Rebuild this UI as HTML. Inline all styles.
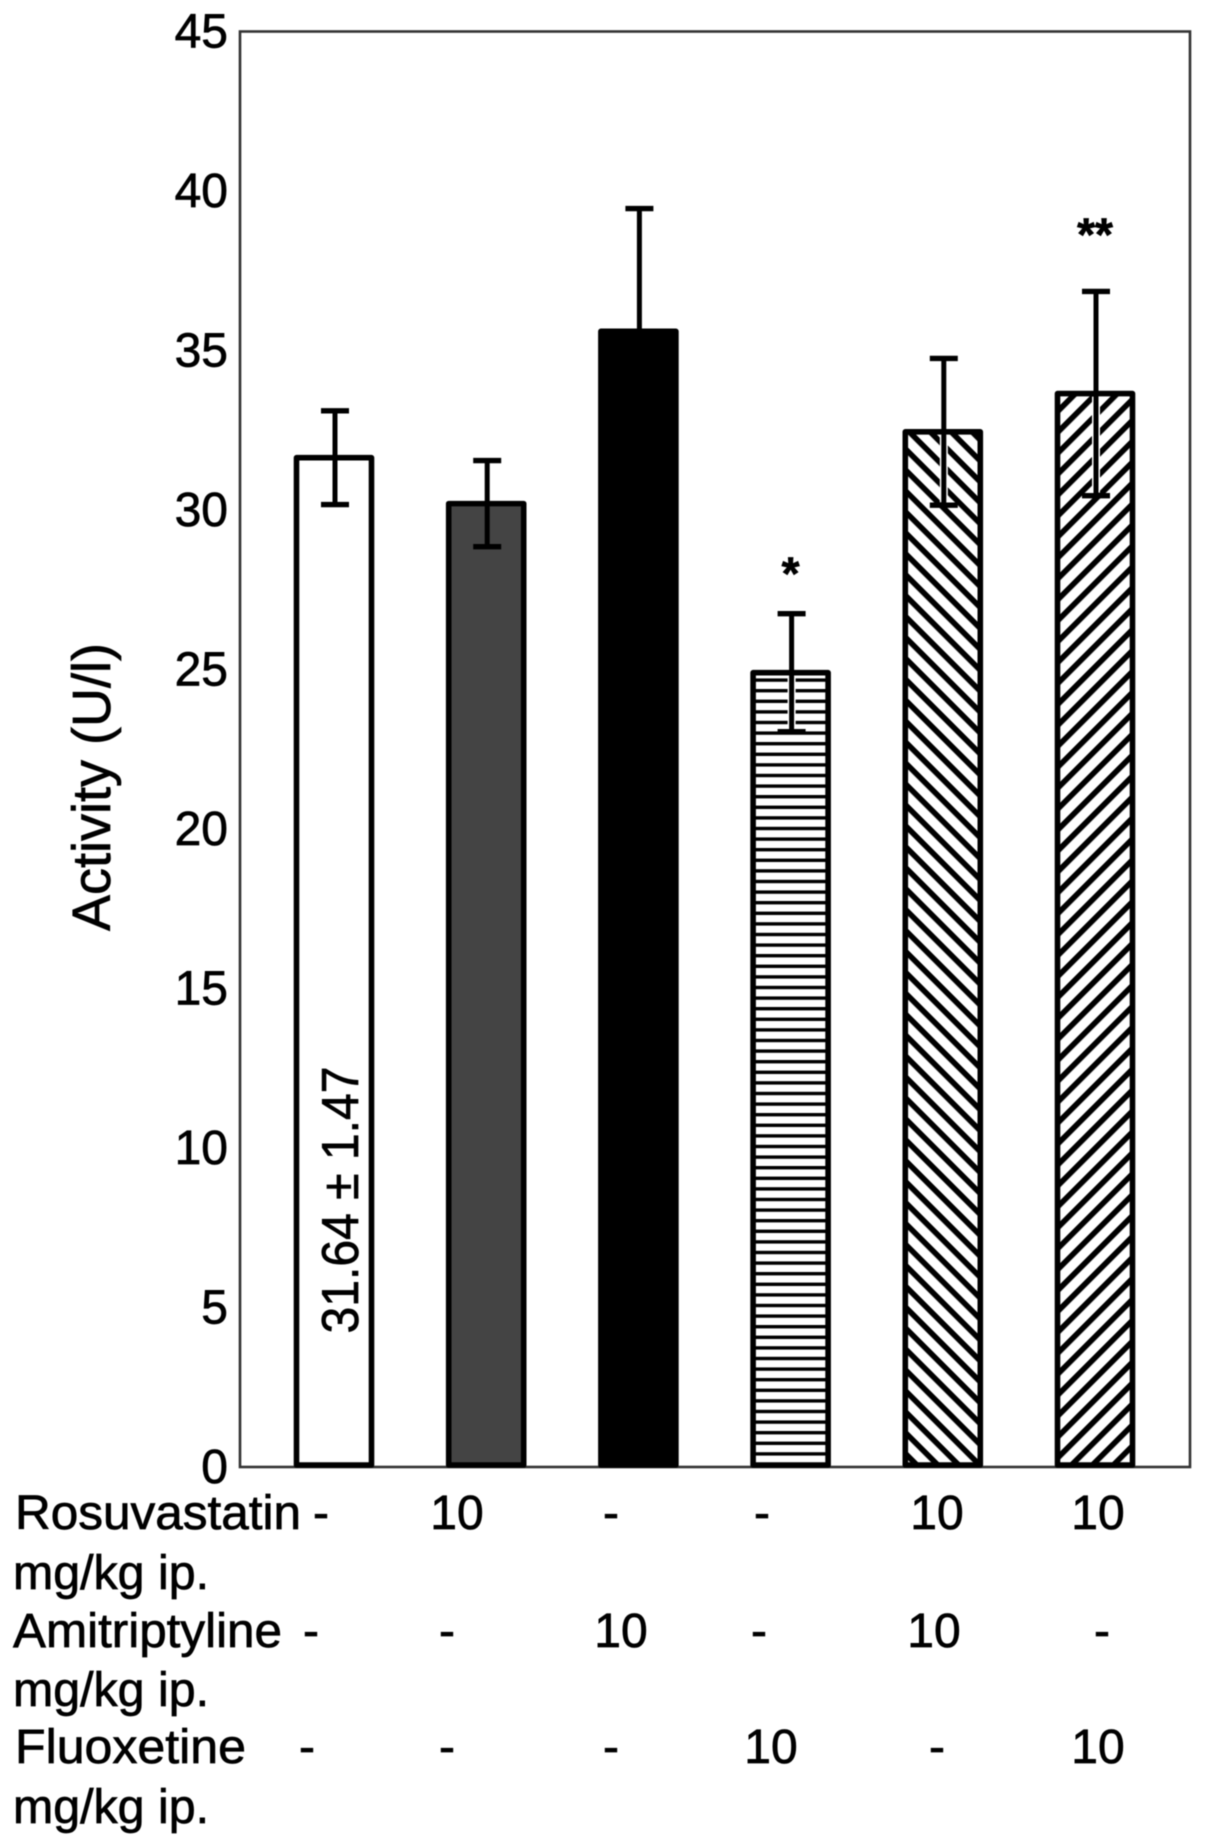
<!DOCTYPE html>
<html lang="en">
<head>
<meta charset="utf-8">
<title>Activity (U/l) bar chart</title>
<style>
html,body{margin:0;padding:0;background:#fff;width:1205px;height:1847px;overflow:hidden}
svg{display:block;filter:blur(.5px)}
text{font-family:"Liberation Sans",Arial,sans-serif;fill:#000;stroke:#000;stroke-width:.7px}
.cell{font-size:48px}
</style>
</head>
<body>
<svg id="chart" xmlns="http://www.w3.org/2000/svg" width="1205" height="1847" viewBox="0 0 1205 1847">
  <defs>
    <pattern id="hatch-horizontal" patternUnits="userSpaceOnUse" width="10.6" height="10.6">
      <rect width="10.6" height="10.6" fill="#fff"/><rect width="10.6" height="3.4" fill="#000"/>
    </pattern>
    <pattern id="hatch-down" patternUnits="userSpaceOnUse" width="14.8" height="14.8" patternTransform="rotate(45)">
      <rect width="14.8" height="14.8" fill="#fff"/><rect width="14.8" height="5.6" fill="#000"/>
    </pattern>
    <pattern id="hatch-up" patternUnits="userSpaceOnUse" width="14.8" height="14.8" patternTransform="rotate(-45)">
      <rect width="14.8" height="14.8" fill="#fff"/><rect width="14.8" height="5.6" fill="#000"/>
    </pattern>
  </defs>

  <rect x="240" y="31.5" width="950" height="1435.5" fill="#fff" stroke="#333" stroke-width="2.6"/>
  <g id="marks"></g>
  <g id="y-ticks"></g>

  <text transform="translate(110,787) rotate(-90)" text-anchor="middle" font-size="54" textLength="288" lengthAdjust="spacingAndGlyphs">Activity (U/l)</text>
  <text transform="translate(358,1200) rotate(-90)" text-anchor="middle" font-size="52" textLength="267" lengthAdjust="spacingAndGlyphs">31.64 ± 1.47</text>

  <g class="cell">
    <text x="15" y="1529" class="cell" textLength="286" lengthAdjust="spacingAndGlyphs">Rosuvastatin</text>
    <text x="13" y="1589" class="cell" textLength="196" lengthAdjust="spacingAndGlyphs">mg/kg ip.</text>
    <text x="13" y="1647" class="cell" textLength="269" lengthAdjust="spacingAndGlyphs">Amitriptyline</text>
    <text x="13" y="1706" class="cell" textLength="196" lengthAdjust="spacingAndGlyphs">mg/kg ip.</text>
    <text x="15" y="1763" class="cell" textLength="231" lengthAdjust="spacingAndGlyphs">Fluoxetine</text>
    <text x="13" y="1823" class="cell" textLength="196" lengthAdjust="spacingAndGlyphs">mg/kg ip.</text>

    <text class="cell" text-anchor="middle" x="321" y="1529">-</text>
    <text class="cell" text-anchor="middle" x="457" y="1529">10</text>
    <text class="cell" text-anchor="middle" x="611" y="1529">-</text>
    <text class="cell" text-anchor="middle" x="762" y="1529">-</text>
    <text class="cell" text-anchor="middle" x="937" y="1529">10</text>
    <text class="cell" text-anchor="middle" x="1098" y="1529">10</text>

    <text class="cell" text-anchor="middle" x="311" y="1647">-</text>
    <text class="cell" text-anchor="middle" x="447" y="1647">-</text>
    <text class="cell" text-anchor="middle" x="621" y="1647">10</text>
    <text class="cell" text-anchor="middle" x="759" y="1647">-</text>
    <text class="cell" text-anchor="middle" x="934" y="1647">10</text>
    <text class="cell" text-anchor="middle" x="1102" y="1647">-</text>

    <text class="cell" text-anchor="middle" x="307" y="1763">-</text>
    <text class="cell" text-anchor="middle" x="447" y="1763">-</text>
    <text class="cell" text-anchor="middle" x="611" y="1763">-</text>
    <text class="cell" text-anchor="middle" x="771" y="1763">10</text>
    <text class="cell" text-anchor="middle" x="937" y="1763">-</text>
    <text class="cell" text-anchor="middle" x="1098" y="1763">10</text>
  </g>
</svg>
<script>
const categories = ["control", "rosuvastatin", "amitriptyline", "fluoxetine", "rosuvastatin-amitriptyline", "rosuvastatin-fluoxetine"];
const means = [31.64, 30.2, 35.6, 24.9, 32.45, 33.65];
const errors = [1.47, 1.35, 3.85, 1.85, 2.3, 3.2];
const significance = ["", "", "", "*", "", "**"];
const yTicks = [0, 5, 10, 15, 20, 25, 30, 35, 40, 45];

const barFill = {
  "control": "#fff",
  "rosuvastatin": "#444",
  "amitriptyline": "#000",
  "fluoxetine": "url(#hatch-horizontal)",
  "rosuvastatin-amitriptyline": "url(#hatch-down)",
  "rosuvastatin-fluoxetine": "url(#hatch-up)"
};

const NS = "http://www.w3.org/2000/svg";
const plotTop = 31.5, plotBottom = 1467, yMax = 45;
const firstCenter = 334, step = 152.2, barWidth = 75, capWidth = 28;
const lineColor = "#000";

function yScale(v) { return plotBottom - v * (plotBottom - plotTop) / yMax; }
function xScale(i) { return firstCenter + i * step; }
function make(tag, attrs) {
  const el = document.createElementNS(NS, tag);
  for (const k in attrs) el.setAttribute(k, attrs[k]);
  return el;
}

const marks = document.getElementById("marks");
const tickLayer = document.getElementById("y-ticks");

yTicks.forEach(function (t) {
  const label = make("text", { x: 228, y: yScale(t) + 16, "text-anchor": "end", "font-size": 48 });
  
  
  label.textContent = t;
  tickLayer.appendChild(label);
});

categories.forEach(function (c, i) {
  const cx = xScale(i);
  const top = yScale(means[i]);
  const bar = make("rect", {
    x: cx - barWidth / 2, y: top, width: barWidth, height: plotBottom - top - 2,
    fill: barFill[c], stroke: "#000", "stroke-width": 5.6, "stroke-linejoin": "round"
  });
  
  
  marks.appendChild(bar);

  const ex = cx + 1;
  const hi = yScale(means[i] + errors[i]);
  const lo = yScale(means[i] - errors[i]);

  if (barFill[c].indexOf("url") === 0) {
    const halo = make("line", { x1: ex, x2: ex, y1: top + 3, y2: lo - 3, stroke: "#fff", "stroke-width": 8 });
    
    
    marks.appendChild(halo);
  }

  const stem = make("line", { x1: ex, x2: ex, y1: hi, y2: lo, stroke: lineColor, "stroke-width": 5 });
  
  
  marks.appendChild(stem);

  const capTop = make("line", { x1: ex - capWidth / 2, x2: ex + capWidth / 2, y1: hi, y2: hi, stroke: lineColor, "stroke-width": 5.4 });
  
  
  marks.appendChild(capTop);

  const capLow = make("line", { x1: ex - capWidth / 2, x2: ex + capWidth / 2, y1: lo, y2: lo, stroke: lineColor, "stroke-width": 5.4 });
  
  
  marks.appendChild(capLow);

  if (significance[i]) {
    const gap = 34 + 17 * significance[i].length;
    const star = make("text", { x: ex - 1, y: hi - gap + 27, "text-anchor": "middle", "font-size": 46, "font-weight": "bold" });
    
    
    star.textContent = significance[i];
    marks.appendChild(star);
  }
});
</script>
</body>
</html>
